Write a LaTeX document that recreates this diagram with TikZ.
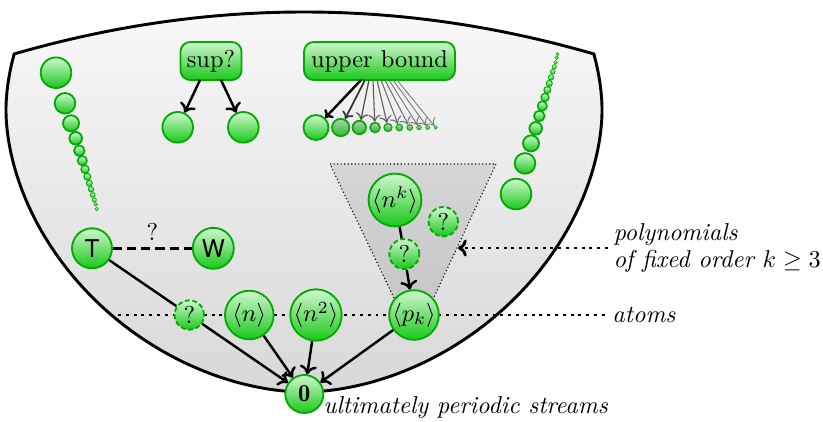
\documentclass[tikz,border=0pt]{standalone}
\usepackage{fontspec}
\newfontfamily\herosfont{TeX Gyre Heros}
\usetikzlibrary{arrows.meta,calc}
\definecolor{ballTop}{RGB}{208,247,208}
\definecolor{ballBot}{RGB}{25,200,25}
\definecolor{ballBorder}{RGB}{0,170,0}
\definecolor{bowlTop}{RGB}{249,249,249}
\definecolor{bowlBot}{RGB}{216,216,216}
\begin{document}
\begin{tikzpicture}[x=0.41pt,y=-0.41pt,
  ball/.style={circle, draw=ballBorder, line width={min(0.75,0.13*#1)*1pt}, top color=ballTop, bottom color=ballBot, inner sep=0pt, minimum size={#1*0.82pt}},
  ball/.default=20,
  qball/.style={ball=#1, dash pattern=on 2pt off 1.1pt},
  dimball/.style={ball=#1, top color=ballTop!65!gray, bottom color=ballBot!85!gray, draw=ballBorder!90!gray},
  gbox/.style={rounded corners=4pt, draw=ballBorder, line width=0.75pt, top color=ballTop, bottom color=ballBot, minimum height=15.6pt, inner xsep=2pt, inner ysep=0pt},
  arr/.style={-{To[length=3.6pt,width=7pt]}, line width=1pt},
  dotline/.style={line width=1.2pt, dash pattern=on 1.2pt off 2pt},
  sflab/.style={font=\herosfont},
  lab/.style={font=\itshape, inner sep=0pt},
]
\useasboundingbox (0,0) rectangle (823,421);
% bowl
\draw[line width=1.2pt, line join=miter, top color=bowlTop, bottom color=bowlBot]
  plot[domain=-12.96:192.96, samples=170, variable=\t]
    ({304+298*cos(\t)*abs(cos(\t))^(0.081)},{110+282*sin(\t)*abs(sin(\t))^(0.081)})
  .. controls (207.5,-2) and (400.5,-2) .. cycle;
% triangle of polynomials of fixed order
\coordinate (triA) at (330,164);
\coordinate (triB) at (496,164);
\coordinate (triC) at (414,340);
\draw[line width=0.45pt, densely dotted, top color=black!16, bottom color=black!24] (triA) -- (triB) -- (triC) -- cycle;
% atoms line
\node[lab, anchor=west] (atoms) at (612,315) {atoms};
\coordinate (atomsL) at (118,315);
\draw[dotline] (atomsL) -- ($(atoms.west)+(-5,0)$);
% left chain
\foreach \i/\dx/\dy/\r in {1/0/0/15.3, 2/9/30.6/10.3, 3/15/50.6/8, 4/19.7/65.6/6.3, 5/23.3/78/5.3, 6/26.3/88/4.7, 7/29/96.6/4, 8/31.3/104/3.4, 9/33.3/110.6/3, 10/35/116.6/2.7, 11/36.7/122.3/2.4, 12/38.3/127.3/2.1, 13/39.7/131.6/1.9, 14/40.7/136.3/1.7}
  \node[ball=\r] (lc\i) at (56+\dx,72.7+\dy) {};
% right chain
\foreach \i/\dx/\dy/\r in {1/0/0/15.3, 2/9/30.6/10.3, 3/15/50.6/8, 4/19.7/65.6/6.3, 5/23.3/78/5.3, 6/26.3/88/4.7, 7/29/96.6/4, 8/31.3/104/3.4, 9/33.3/110.6/3, 10/35/116.6/2.7, 11/36.7/122.3/2.4, 12/38.3/127.3/2.1, 13/39.7/131.6/1.9, 14/40.7/136.3/1.7, 15/41.5/140/1.5}
  \node[ball=\r] (rc\i) at (516+\dx,194-\dy) {};
% sup?
\node[gbox, minimum width=25pt] (sup) at (211,61) {sup?};
\node[ball=15.3] (supl) at (177.7,127.3) {};
\node[ball=15.3] (supr) at (243.3,127.3) {};
\coordinate (supsl) at (200,80);
\coordinate (supsr) at (221,80);
\draw[arr] (supsl) -- (supl);
\draw[arr] (supsr) -- (supr);
% upper bound
\node[gbox, minimum width=61.9pt] (ub) at (379.5,61) {upper bound};
\node[ball=12.5] (ub1) at (316,127.5) {};
\foreach \i/\xx/\r in {2/340.7/8.7, 3/359.3/6.7, 4/375/5, 5/388/4, 6/399.3/3.3, 7/409.7/2.8, 8/419/2.3, 9/427.7/2, 10/435.7/1.7}
  \node[dimball=\r] (ub\i) at (\xx,127.5) {};
\foreach \i/\lw/\col in {1/1/100, 2/0.7/80, 3/0.5/70, 4/0.45/65, 5/0.45/62, 6/0.4/60, 7/0.4/58, 8/0.35/56, 9/0.35/54, 10/0.35/52} {
  \coordinate (ubs\i) at (357+4*\i,80);
  \draw[-{To[length=2.8pt,width=5pt]}, line width=\lw pt, black!\col] (ubs\i) -- (ub\i);
}
% T and W
\node[ball=20, sflab] (T) at (92,248.3) {T};
\node[ball=20.5, sflab] (W) at (213.3,248.3) {W};
\draw[line width=1.1pt, dash pattern=on 3.8pt off 2pt] (T) -- node[above=2.5pt, inner sep=0pt] (tw) {?} (W);
% atoms
\node[qball=14.7] (q1) at (189.3,315) {?};
\node[ball=24.3] (n) at (249.3,315) {$\langle n\rangle$};
\node[ball=25.7] (n2) at (316,315) {$\langle n^2\rangle$};
\node[ball=24.3] (pk) at (414,315) {$\langle p_k\rangle$};
% polynomial triangle contents
\node[ball=26] (nk) at (395,200) {$\langle n^k\rangle$};
\node[qball=15] (q2) at (404.3,254) {?};
\node[qball=14.7] (q3) at (443.3,221.7) {?};
% zero
\node[ball=19] (zero) at (304.3,394) {$\mathbf{0}$};
\node[lab, anchor=base west] (ups) at (323,413) {ultimately periodic streams};
% arrows
\draw[line width=1pt] (T) -- (q1);
\draw[arr] (q1) -- (zero);
\draw[arr] (n) -- (zero);
\draw[arr] (n2) -- (zero);
\draw[arr] (pk) -- (zero);
\draw[line width=1pt] (nk) -- (q2);
\draw[arr] (q2) -- (pk);
% polynomials label
\node[lab, anchor=west, align=left] (poly) at (613,248) {polynomials\\[-1pt]of fixed order $k\geq 3$};
\coordinate (triR) at (458,248);
\draw[dotline, -{To[length=3.6pt,width=7pt]}] ($(poly.west)+(-5,0)$) -- (triR);
\end{tikzpicture}
\end{document}
